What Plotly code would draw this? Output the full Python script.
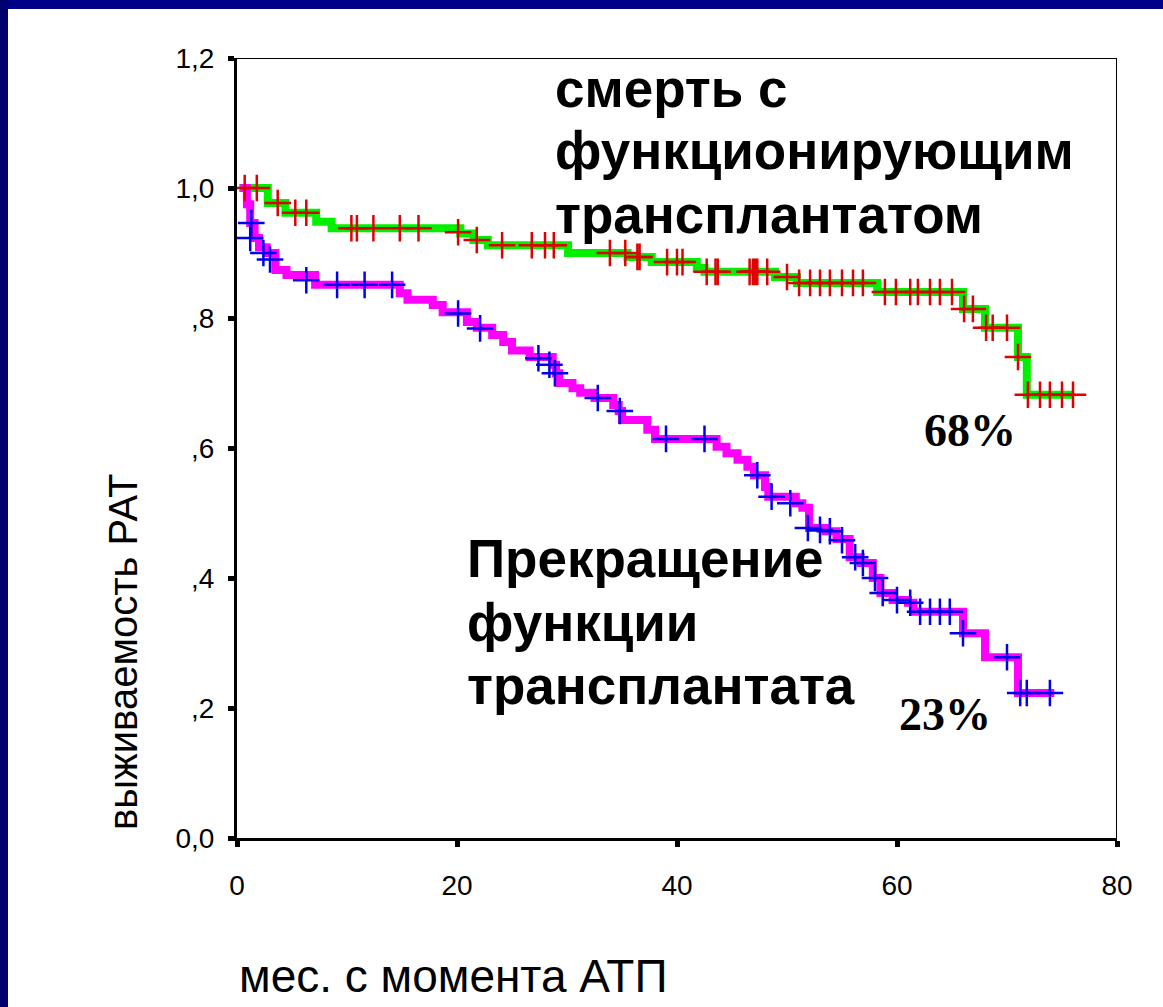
import plotly.graph_objects as go

W, H = 1163, 1007

# ---- data ----
x_tickvals = [0, 20, 40, 60, 80]
x_ticktext = ["0", "20", "40", "60", "80"]
y_tickvals = [0.0, 0.2, 0.4, 0.6, 0.8, 1.0, 1.2]
y_ticktext = ["0,0", ",2", ",4", ",6", ",8", "1,0", "1,2"]

# death with functioning graft (green) – step times and survival
green_t = [0.2, 2.8, 4.4, 7.2, 8.6, 20.3, 21.5, 22.8, 30.1, 35.5, 37.7, 41.8, 42.5,
           48.9, 50.9, 58.2, 66.0, 68.0, 71.0, 71.8]
green_s = [1.0, 0.977, 0.962, 0.948, 0.938, 0.93, 0.92, 0.912, 0.9, 0.894, 0.886, 0.877, 0.871,
           0.863, 0.854, 0.84, 0.814, 0.785, 0.74, 0.682]
green_end = 76.0
green_cens_t = [0.7, 1.8, 3.7, 5.3, 6.3, 10.4, 10.9, 12.4, 14.8, 16.5, 20.1, 21.8, 24.1, 26.8,
                28.0, 28.8, 33.9, 35.3, 36.4, 36.6, 39.1, 40.0, 40.5, 42.7, 43.5, 43.7, 46.6,
                46.9, 47.1, 47.3, 48.2, 50.0, 51.1, 52.1, 53.0, 53.9, 55.0, 56.0, 56.9, 58.9,
                59.9, 61.2, 61.9, 63.0, 63.9, 65.0, 66.1, 66.9, 68.1, 68.7, 70.0, 71.0, 71.9,
                73.0, 73.9, 75.0, 76.0]
green_cens_s = [1.0, 1.0, 0.977, 0.962, 0.962, 0.938, 0.938, 0.938, 0.938, 0.938, 0.932, 0.92,
                0.912, 0.912, 0.912, 0.912, 0.9, 0.9, 0.894, 0.894, 0.886, 0.886, 0.886, 0.871,
                0.871, 0.871, 0.871, 0.871, 0.871, 0.871, 0.871, 0.863, 0.854, 0.854, 0.854,
                0.854, 0.854, 0.854, 0.854, 0.84, 0.84, 0.84, 0.84, 0.84, 0.84, 0.84, 0.814,
                0.814, 0.785, 0.785, 0.785, 0.74, 0.682, 0.682, 0.682, 0.682, 0.682]

# graft failure (magenta)
pink_t = [0.3, 0.9, 1.2, 1.6, 2.0, 2.7, 3.5, 4.5, 7.1, 14.8, 15.5, 17.8, 18.7, 20.9, 21.8,
          23.2, 24.2, 25.0, 26.6, 28.7, 29.0, 29.3, 30.5, 31.2, 32.5, 34.2, 34.7, 35.0, 37.3,
          38.0, 43.6, 44.5, 45.5, 46.4, 47.0, 48.0, 48.3, 50.8, 51.4, 52.0, 53.5, 54.5, 55.7,
          56.7, 57.8, 58.5, 59.6, 61.0, 61.5, 66.0, 68.0, 71.0]
pink_s = [1.0, 0.975, 0.946, 0.923, 0.909, 0.9, 0.874, 0.866, 0.851, 0.838, 0.828, 0.82, 0.809,
          0.794, 0.785, 0.774, 0.763, 0.75, 0.74, 0.728, 0.715, 0.70, 0.692, 0.685, 0.677,
          0.666, 0.657, 0.643, 0.628, 0.614, 0.602, 0.592, 0.582, 0.571, 0.558, 0.54, 0.525,
          0.515, 0.508, 0.477, 0.472, 0.46, 0.432, 0.423, 0.40, 0.377, 0.366, 0.362, 0.348,
          0.315, 0.278, 0.223]
pink_end = 74.3
pink_cens_t = [1.3, 1.2, 2.4, 3.0, 6.3, 9.1, 11.6, 14.1, 20.1, 22.1, 27.4, 28.4, 28.9, 32.8,
               34.8, 39.0, 42.5, 47.3, 48.6, 50.3, 51.9, 53.0, 53.9, 55.0, 56.2, 56.9, 58.0,
               58.7, 60.0, 61.2, 62.1, 63.0, 63.9, 64.8, 66.0, 70.0, 71.2, 71.8, 73.9]
pink_cens_s = [0.946, 0.923, 0.9, 0.89, 0.858, 0.851, 0.851, 0.851, 0.807, 0.784, 0.738, 0.728,
               0.715, 0.677, 0.657, 0.614, 0.614, 0.558, 0.525, 0.515, 0.477, 0.474, 0.472,
               0.458, 0.432, 0.423, 0.40, 0.377, 0.366, 0.362, 0.348, 0.348, 0.348, 0.348,
               0.315, 0.278, 0.223, 0.223, 0.223]

label_top = ["смерть с", "функционирующим", "трансплантатом"]
label_bottom = ["Прекращение", "функции", "трансплантата"]
pct_green = "68%"
pct_pink = "23%"
x_title = "мес. с момента АТП"
y_title = "выживаемость РАТ"


def px(x):
    return x / W


def py(y):
    return 1 - y / H


fig = go.Figure()

fig.add_trace(go.Scatter(x=green_t + [green_end], y=green_s + [green_s[-1]], mode="lines",
                         line=dict(color="#00f000", width=8, shape="hv"), hoverinfo="skip"))
fig.add_trace(go.Scatter(x=pink_t + [pink_end], y=pink_s + [pink_s[-1]], mode="lines",
                         line=dict(color="#ff00ff", width=8, shape="hv"), hoverinfo="skip"))
fig.add_trace(go.Scatter(x=green_cens_t, y=green_cens_s, mode="markers",
                         marker=dict(symbol="cross-thin", size=19,
                                     line=dict(color="#e00000", width=2.5)),
                         cliponaxis=False))
fig.add_trace(go.Scatter(x=pink_cens_t, y=pink_cens_s, mode="markers",
                         marker=dict(symbol="cross-thin", size=19,
                                     line=dict(color="#0000ee", width=2.5)),
                         cliponaxis=False))

font_tick = dict(family="Liberation Sans, Arial", size=28, color="black")

fig.update_layout(
    width=W, height=H, margin=dict(l=0, r=0, t=0, b=0, pad=0, autoexpand=False),
    paper_bgcolor="white", plot_bgcolor="white", showlegend=False,
    xaxis=dict(domain=[px(237), px(1117)], range=[0, 80], tickvals=x_tickvals,
               ticktext=x_ticktext, showgrid=False, zeroline=False, showline=True,
               linecolor="black", linewidth=3, ticks="outside", ticklen=6, tickwidth=5,
               tickcolor="black", tickfont=font_tick, ticklabelstandoff=14),
    yaxis=dict(domain=[py(838), py(58)], range=[0, 1.2], tickvals=y_tickvals,
               ticktext=y_ticktext, showgrid=False, zeroline=False, showline=True,
               linecolor="black", linewidth=3, ticks="outside", ticklen=6, tickwidth=5,
               tickcolor="black", tickfont=font_tick, ticklabelstandoff=8),
    shapes=[
        dict(type="rect", xref="paper", yref="paper", x0=0, x1=1, y0=py(9), y1=1,
             fillcolor="#000088", line=dict(width=0), layer="above"),
        dict(type="rect", xref="paper", yref="paper", x0=0, x1=px(8), y0=0, y1=1,
             fillcolor="#00006e", line=dict(width=0), layer="above"),
        dict(type="line", xref="x", yref="y", x0=0, x1=80, y0=1.2, y1=1.2,
             line=dict(color="black", width=2)),
        dict(type="line", xref="x", yref="y", x0=80, x1=80, y0=0, y1=1.2,
             line=dict(color="black", width=2)),
    ],
)

bold = dict(family="Liberation Sans, Arial", size=53, color="black", weight="bold")
ann = []
for txt, yc in zip(label_top, [88, 151, 214]):
    ann.append(dict(text="<b>%s</b>" % txt, x=px(553), y=py(yc), xref="paper", yref="paper",
                    xanchor="left", yanchor="middle", showarrow=False, font=bold))
for txt, yc in zip(label_bottom, [558, 622, 685]):
    ann.append(dict(text="<b>%s</b>" % txt, x=px(465), y=py(yc), xref="paper", yref="paper",
                    xanchor="left", yanchor="middle", showarrow=False, font=bold))
serif = dict(family="Liberation Serif, Times New Roman", size=46, color="black")
ann.append(dict(text="<b>%s</b>" % pct_green, x=px(970), y=py(430), xref="paper", yref="paper",
                xanchor="center", yanchor="middle", showarrow=False, font=serif))
ann.append(dict(text="<b>%s</b>" % pct_pink, x=px(945), y=py(714), xref="paper", yref="paper",
                xanchor="center", yanchor="middle", showarrow=False, font=serif))
ann.append(dict(text=x_title, x=px(453), y=py(976), xref="paper", yref="paper",
                xanchor="center", yanchor="middle", showarrow=False,
                font=dict(family="Liberation Sans, Arial", size=46, color="black")))
ann.append(dict(text=y_title, x=px(123), y=py(652), xref="paper", yref="paper",
                xanchor="center", yanchor="middle", showarrow=False, textangle=-90,
                font=dict(family="Liberation Sans, Arial", size=40, color="black")))
fig.update_layout(annotations=ann)

fig.write_html("out.html", config={"displayModeBar": False})
